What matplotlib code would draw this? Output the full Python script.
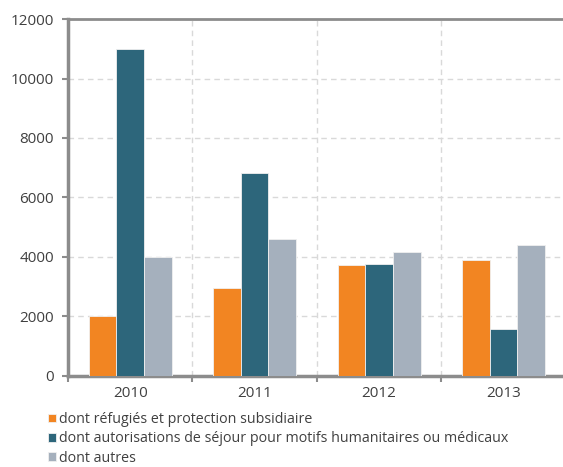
import matplotlib.pyplot as plt
import numpy as np

years = ['2010', '2011', '2012', '2013']
refugies = [2030, 2950, 3720, 3900]
humanitaires = [10980, 6830, 3780, 1570]
autres = [4000, 4610, 4180, 4410]

labels = ['dont réfugiés et protection subsidiaire',
          'dont autorisations de séjour pour motifs humanitaires ou médicaux',
          'dont autres']
colors = ['#F28522', '#2D667B', '#A5B0BD']

plt.rcParams['font.family'] = ['Open Sans', 'DejaVu Sans']

fig = plt.figure(figsize=(5.63, 4.67), dpi=100)
ax = fig.add_axes([0.1208, 0.1949, 0.884, 0.7644])

x = np.arange(len(years))
w = 0.222
bars = []
for i, (vals, c) in enumerate(zip([refugies, humanitaires, autres], colors)):
    b = ax.bar(x + (i - 1) * w, vals, width=w, color=c, edgecolor='#f0f0f0',
               linewidth=0.6, zorder=3)
    bars.append(b)

ax.set_xlim(-0.5, 3.5)
ax.set_ylim(0, 12000)
ax.set_yticks(range(0, 12001, 2000))

# category boundaries carry the ticks, year labels sit on minor ticks
ax.set_xticks(np.arange(-0.5, 3.6, 1))
ax.set_xticklabels([])
ax.set_xticks(x, minor=True)
ax.set_xticklabels(years, minor=True)
ax.tick_params(axis='x', which='minor', length=0, pad=7)
ax.tick_params(axis='x', which='major', length=4, width=1.5, color='#8c8c8c')
ax.tick_params(axis='y', length=4, width=1.5, color='#8c8c8c', pad=6)
ax.tick_params(axis='both', which='both', labelsize=11, labelcolor='#404040')

ax.grid(True, which='major', color='#d9d9d9', linestyle=(0, (4, 3)),
        linewidth=1, zorder=0)

for s in ['left', 'bottom', 'top']:
    ax.spines[s].set_color('#8c8c8c')
    ax.spines[s].set_linewidth(2.5)
ax.spines['top'].set_linewidth(2)
ax.spines['right'].set_visible(False)

fig.legend([b[0] for b in bars], labels, loc='upper left',
           bbox_to_anchor=(0.072, 0.133), frameon=False, fontsize=10.3,
           handlelength=0.55, handleheight=0.55, handletextpad=0.25,
           labelspacing=0.3, borderpad=0, labelcolor='#404040')

fig.savefig('out.png', dpi=100)
